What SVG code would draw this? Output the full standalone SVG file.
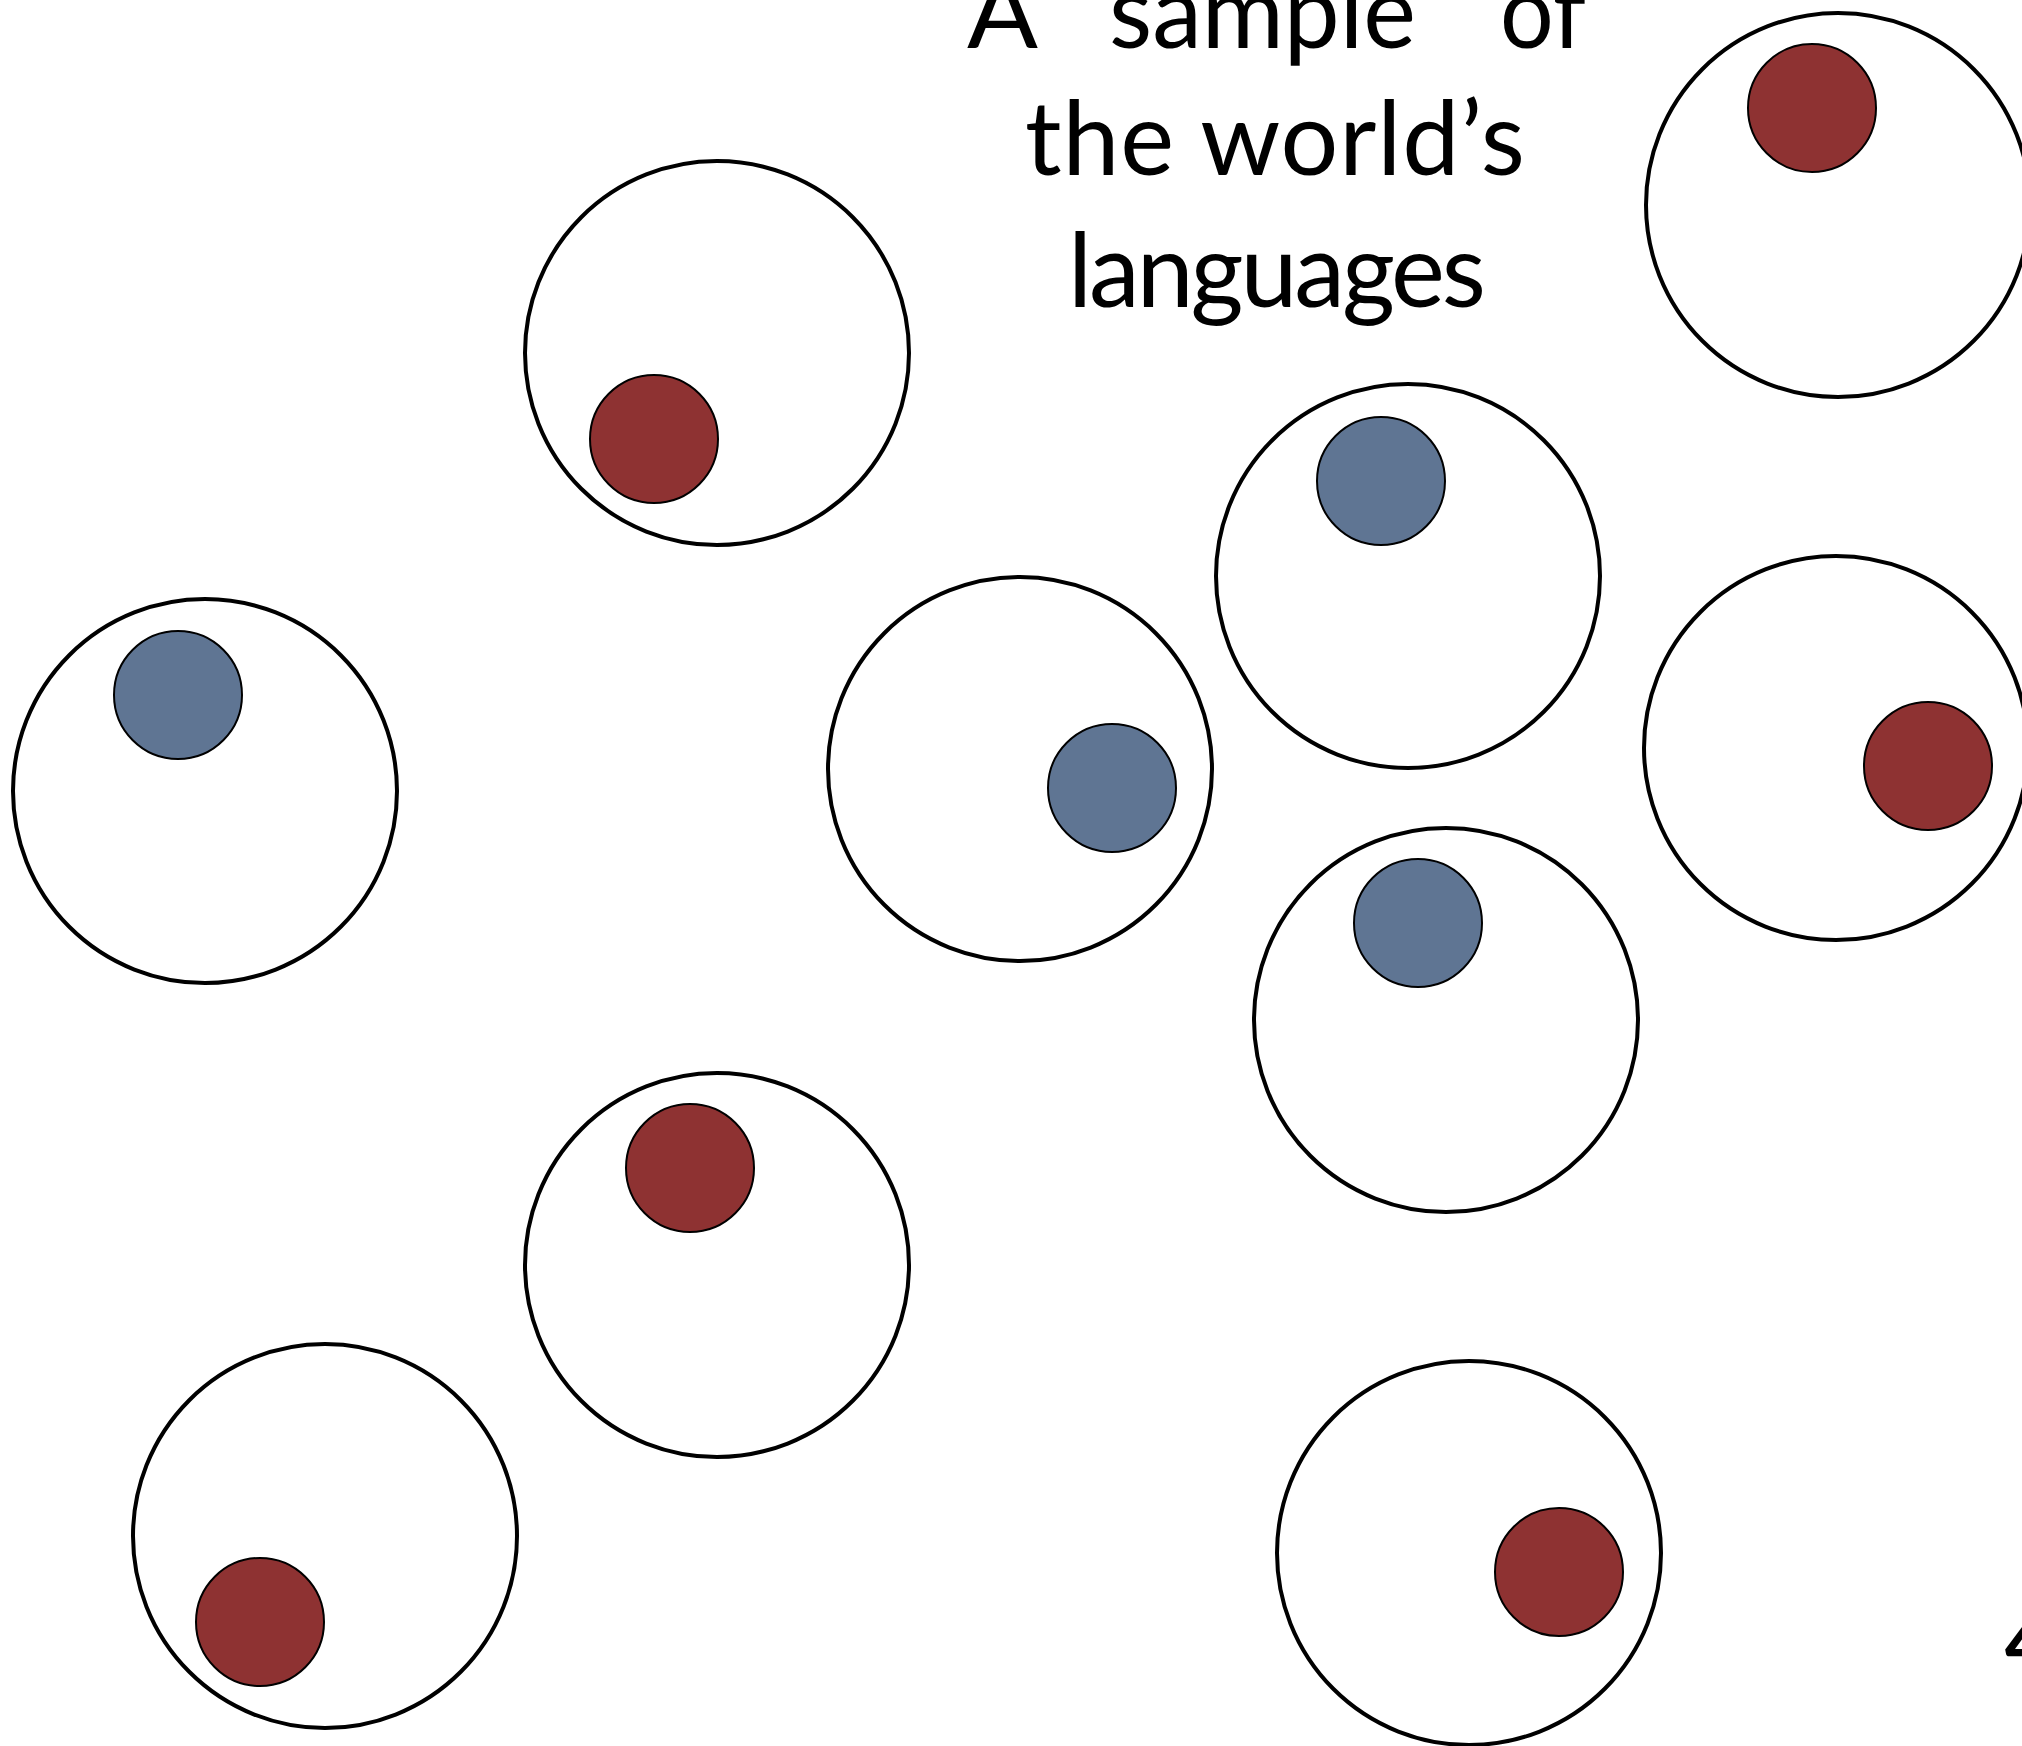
<svg xmlns="http://www.w3.org/2000/svg" width="2022" height="1746" viewBox="0 0 2022 1746">
<style>
.outer{fill:#fff;stroke:#000;stroke-width:4}
.red{fill:#8e3232;stroke:#000;stroke-width:2}
.blue{fill:#5f7593;stroke:#000;stroke-width:2}
.t{font-family:Lato,"Open Sans",sans-serif;font-size:102px;fill:#000}
</style>
<rect width="2022" height="1746" fill="#fff"/>
<g id="title">
<text class="t" x="967" y="48" textLength="71" lengthAdjust="spacingAndGlyphs">A</text>
<text class="t" x="1109" y="48" textLength="307" lengthAdjust="spacingAndGlyphs">sample</text>
<text class="t" x="1500" y="48" textLength="86" lengthAdjust="spacingAndGlyphs">of</text>
<text class="t" x="1025" y="175" textLength="500" lengthAdjust="spacing">the world’s</text>
<text class="t" x="1068" y="307" textLength="418" lengthAdjust="spacing">languages</text>
</g>
<g id="lang1"><circle class="outer" cx="1838" cy="205" r="192"/><circle class="red" cx="1812" cy="108" r="64"/></g>
<g id="lang2"><circle class="outer" cx="717" cy="353" r="192"/><circle class="red" cx="654" cy="439" r="64"/></g>
<g id="lang3"><circle class="outer" cx="205" cy="791" r="192"/><circle class="blue" cx="178" cy="695" r="64"/></g>
<g id="lang4"><circle class="outer" cx="1020" cy="769" r="192"/><circle class="blue" cx="1112" cy="788" r="64"/></g>
<g id="lang5"><circle class="outer" cx="1408" cy="576" r="192"/><circle class="blue" cx="1381" cy="481" r="64"/></g>
<g id="lang6"><circle class="outer" cx="1836" cy="748" r="192"/><circle class="red" cx="1928" cy="766" r="64"/></g>
<g id="lang7"><circle class="outer" cx="1446" cy="1020" r="192"/><circle class="blue" cx="1418" cy="923" r="64"/></g>
<g id="lang8"><circle class="outer" cx="717" cy="1265" r="192"/><circle class="red" cx="690" cy="1168" r="64"/></g>
<g id="lang9"><circle class="outer" cx="325" cy="1536" r="192"/><circle class="red" cx="260" cy="1622" r="64"/></g>
<g id="lang10"><circle class="outer" cx="1469" cy="1553" r="192"/><circle class="red" cx="1559" cy="1572" r="64"/></g>
<g id="connectors"/>
<text class="t" x="2004" y="1676">4</text>
</svg>
